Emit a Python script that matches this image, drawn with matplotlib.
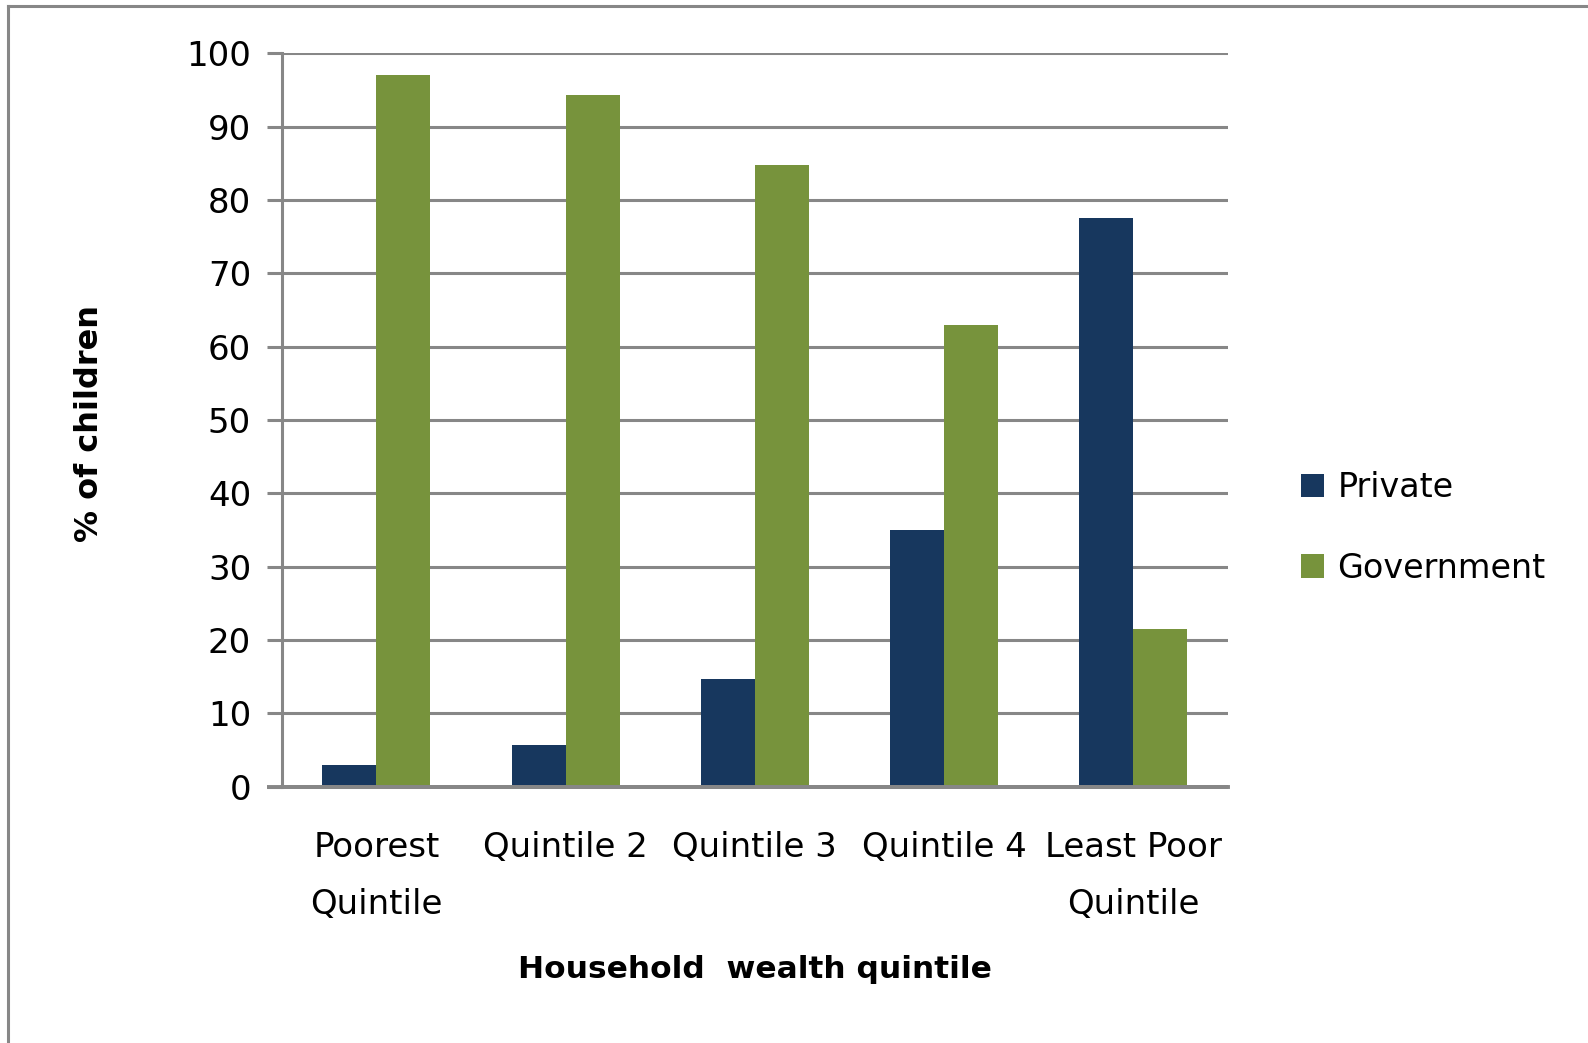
import matplotlib
matplotlib.use('Agg')
import matplotlib.pyplot as plt
from matplotlib.lines import Line2D
import numpy as np

# values
categories = ['Poorest\nQuintile', 'Quintile 2', 'Quintile 3', 'Quintile 4', 'Least Poor\nQuintile']
private = [3.0, 5.7, 14.7, 35.0, 77.5]
government = [97.0, 94.3, 84.8, 63.0, 21.5]
yticks = [0, 10, 20, 30, 40, 50, 60, 70, 80, 90, 100]

navy = '#17375E'
green = '#77933C'
grid_gray = '#878787'

fig = plt.figure(figsize=(15.88, 10.43), dpi=100)
ax = fig.add_axes([0.1774, 0.2457, 0.5959, 0.7032])

x = np.arange(len(categories))
w = 1 / 3.5
ax.bar(x - w / 2, private, w, color=navy, label='Private', zorder=3)
ax.bar(x + w / 2, government, w, color=green, label='Government', zorder=3)

ax.set_xlim(-0.5, len(categories) - 0.5)
ax.set_ylim(0, 100)
ax.set_yticks(yticks)
ax.set_xticks(x)
ax.set_xticklabels(categories, fontsize=24.5, linespacing=1.9)
ax.tick_params(axis='x', length=0, pad=32)
ax.tick_params(axis='y', length=11, width=2.2, color=grid_gray, labelsize=24.5, pad=11)
ax.yaxis.grid(True, color=grid_gray, linewidth=2.2, zorder=0)
for s in ['top', 'right']:
    ax.spines[s].set_visible(False)
ax.spines['left'].set_color(grid_gray)
ax.spines['left'].set_linewidth(2.2)
ax.spines['bottom'].set_color(grid_gray)
ax.spines['bottom'].set_linewidth(2.8)
ax.spines['bottom'].set_zorder(4)
# baseline stretches left like the tick marks
ax.plot([-0.58, len(categories) - 0.5], [0, 0], color=grid_gray, lw=2.8,
        clip_on=False, zorder=4, solid_capstyle='butt')

ax.set_xlabel('Household  wealth quintile', fontsize=22.5, fontweight='bold')
ax.set_ylabel('% of children', fontsize=23, fontweight='bold')
ax.xaxis.set_label_coords(0.5, -0.2295)
ax.yaxis.set_label_coords(-0.187, 0.495)

ax.legend(loc='center left', bbox_to_anchor=(1.045, 0.353), frameon=False,
          fontsize=24, handlelength=0.7, handleheight=0.7, handletextpad=0.4,
          labelspacing=1.43)

# outer chart border (left and top edges)
fig.add_artist(Line2D([0.0053, 0.0053], [0, 0.9942], color=grid_gray, lw=2.2,
                      transform=fig.transFigure))
fig.add_artist(Line2D([0.0053, 1.0], [0.9942, 0.9942], color=grid_gray, lw=2.2,
                      transform=fig.transFigure))

fig.savefig('out.png', dpi=100)
